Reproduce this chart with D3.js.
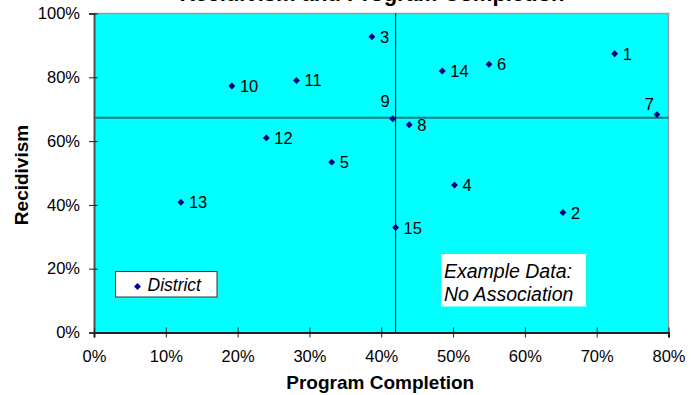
<!DOCTYPE html>
<html>
<head>
<meta charset="utf-8">
<script src="https://cdn.jsdelivr.net/npm/d3@7"></script>
<style>
  html, body { margin: 0; padding: 0; background: #fff; }
  svg { display: block; font-family: Arial, "Liberation Sans", sans-serif; }
</style>
</head>
<body>
<svg id="chart" width="691" height="395"></svg>
<script>
// District results: share of participants completing the program vs. recidivism rate
const districts  = ["1", "2", "3", "4", "5", "6", "7", "8", "9", "10", "11", "12", "13", "14", "15"];
const completion = [0.725, 0.653, 0.387, 0.502, 0.331, 0.550, 0.784, 0.439, 0.416, 0.192, 0.282, 0.240, 0.121, 0.485, 0.420];
const recidivism = [0.874, 0.376, 0.927, 0.462, 0.534, 0.841, 0.683, 0.651, 0.670, 0.773, 0.790, 0.610, 0.408, 0.820, 0.329];
// where each district's label sits relative to its marker
const labelSide  = ["right", "right", "right", "right", "right", "right", "upleft", "right", "upleft2", "right", "right", "right", "right", "right", "right"];

// median reference lines splitting the districts into quadrants
const refCompletion = [0.42];
const refRecidivism = [0.673];

const xTicks = [0, 0.1, 0.2, 0.3, 0.4, 0.5, 0.6, 0.7, 0.8];
const yTicks = [0, 0.2, 0.4, 0.6, 0.8, 1.0];

const svg = d3.select("#chart");
const m = { left: 94, right: 691 - 668.5, top: 13.5, bottom: 395 - 332.5 };
const W = 691, H = 395;

const x = d3.scaleLinear().domain([0, 0.8]).range([m.left, W - m.right]);
const y = d3.scaleLinear().domain([0, 1]).range([H - m.bottom, m.top]);
const pct = d3.format(".0%");

// plot area
svg.append("rect")
  .attr("x", x(0)).attr("y", y(1))
  .attr("width", x(0.8) - x(0)).attr("height", y(0) - y(1))
  .attr("fill", "#00ffff");

// top and right border
svg.append("path")
  .attr("d", `M${x(0)},${y(1)}H${x(0.8)}V${y(0)}`)
  .attr("fill", "none").attr("stroke", "#9a9a9a").attr("stroke-width", 1.5);

// reference lines
svg.selectAll(".refh").data(refRecidivism).join("line")
  .attr("x1", x(0)).attr("x2", x(0.8))
  .attr("y1", d => y(d)).attr("y2", d => y(d))
  .attr("stroke", "#1d7a7a").attr("stroke-width", 2);
svg.selectAll(".refv").data(refCompletion).join("line")
  .attr("x1", d => x(d)).attr("x2", d => x(d))
  .attr("y1", y(1)).attr("y2", y(0))
  .attr("stroke", "#000").attr("stroke-width", 1);

// axes
const yAxis = svg.append("g")
  .attr("transform", `translate(${x(0)},0)`)
  .call(d3.axisLeft(y).tickValues(yTicks).tickFormat(pct).tickSize(5).tickPadding(9));
yAxis.select(".domain").attr("stroke", "#505050").attr("stroke-width", 2);
yAxis.selectAll(".tick line").attr("x2", 4).attr("x1", -5).attr("stroke", "#222");
yAxis.selectAll(".tick text").attr("font-size", 16.5).attr("fill", "#000")
  .attr("font-family", "Arial, 'Liberation Sans', sans-serif");

const xAxis = svg.append("g")
  .attr("transform", `translate(0,${y(0)})`)
  .call(d3.axisBottom(x).tickValues(xTicks).tickFormat(pct).tickSize(5).tickPadding(13));
xAxis.select(".domain").attr("stroke", "#222").attr("stroke-width", 2);
xAxis.selectAll(".tick line").attr("y1", -5).attr("y2", 5).attr("stroke", "#222");
xAxis.selectAll(".tick text").attr("font-size", 16.5).attr("fill", "#000")
  .attr("font-family", "Arial, 'Liberation Sans', sans-serif");

// axis titles and chart title
svg.append("text")
  .attr("x", (x(0) + x(0.8)) / 2 - 1).attr("y", 389)
  .attr("text-anchor", "middle").attr("font-size", 19).attr("font-weight", "bold")
  .text("Program Completion");
svg.append("text")
  .attr("transform", `translate(28,${(y(0) + y(1)) / 2 + 2}) rotate(-90)`)
  .attr("text-anchor", "middle").attr("font-size", 19).attr("font-weight", "bold")
  .text("Recidivism");
svg.append("text")
  .attr("x", 372).attr("y", 1)
  .attr("text-anchor", "middle").attr("font-size", 22).attr("font-weight", "bold")
  .text("Recidivism and Program Completion");

// district markers
const diamond = d3.symbol().type(d3.symbolSquare).size(24);
const pts = districts.map((d, i) => ({ name: d, cx: completion[i], cy: recidivism[i], side: labelSide[i] }));

svg.append("g").selectAll("path").data(pts).join("path")
  .attr("d", diamond)
  .attr("transform", d => `translate(${x(d.cx)},${y(d.cy)}) rotate(45)`)
  .attr("fill", "#000080");

svg.append("g").selectAll("text").data(pts).join("text")
  .attr("font-size", 16.5).attr("fill", "#000")
  .attr("x", d => d.side === "right" ? x(d.cx) + 8 : x(d.cx) - 3)
  .attr("y", d => d.side === "right" ? y(d.cy) + 6 : d.side === "upleft" ? y(d.cy) - 5 : y(d.cy) - 12)
  .attr("text-anchor", d => d.side === "right" ? "start" : "end")
  .text(d => d.name);

// legend
const lg = svg.append("g");
lg.append("rect").attr("x", 115.5).attr("y", 271.5).attr("width", 101.5).attr("height", 25.5)
  .attr("fill", "#fff").attr("stroke", "#333").attr("stroke-width", 1);
lg.append("path").attr("d", diamond)
  .attr("transform", "translate(137.5,286.5) rotate(45)").attr("fill", "#000080");
lg.append("text").attr("x", 147.5).attr("y", 290.5)
  .attr("font-size", 17.5).attr("font-style", "italic").text("District");

// annotation
const note = svg.append("g");
note.append("rect").attr("x", 441).attr("y", 254).attr("width", 145).attr("height", 52.5).attr("fill", "#fff");
note.append("text").attr("x", 444).attr("y", 277.5).attr("font-size", 19.5).attr("font-style", "italic").text("Example Data:");
note.append("text").attr("x", 444).attr("y", 300.5).attr("font-size", 19.5).attr("font-style", "italic").text("No Association");
</script>
</body>
</html>
